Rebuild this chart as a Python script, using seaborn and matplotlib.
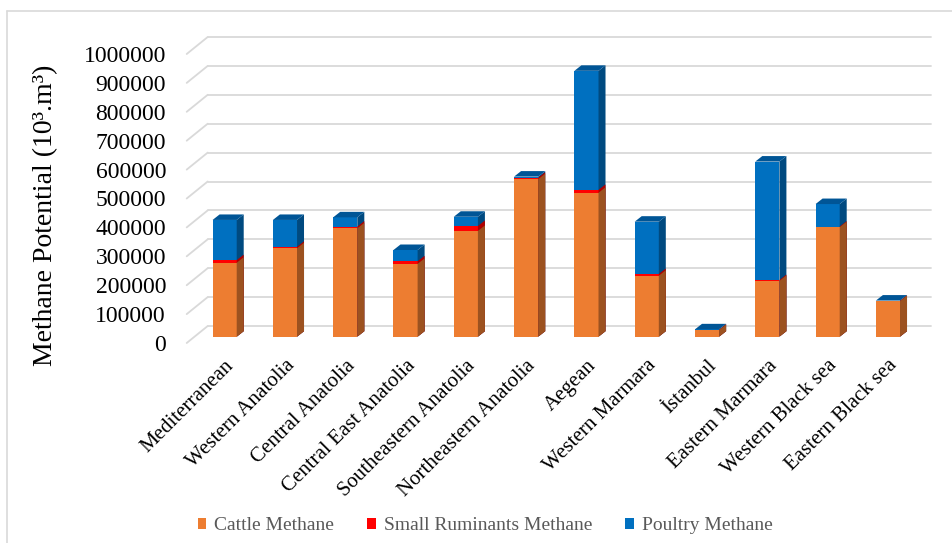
import numpy as np
import pandas as pd
import matplotlib
matplotlib.use("Agg")
import matplotlib.pyplot as plt
import matplotlib.transforms as mtransforms
from matplotlib.patches import Polygon, Patch
from matplotlib.lines import Line2D
import seaborn as sns

# Methane potential by region (10^3 m^3)
regions = ["Mediterranean", "Western Anatolia", "Central Anatolia", "Central East Anatolia",
           "Southeastern Anatolia", "Northeastern Anatolia", "Aegean", "Western Marmara",
           "İstanbul", "Eastern Marmara", "Western Black sea", "Eastern Black sea"]
cattle = [256000, 306000, 375000, 252000, 366000, 545000, 498000, 211000, 23000, 193000, 379000, 123000]
small_ruminants = [9000, 5000, 6000, 9000, 17000, 5000, 10000, 6000, 1000, 3000, 2000, 1000]
poultry = [139000, 93000, 32000, 39000, 32000, 4000, 412000, 181000, 1500, 410000, 78000, 1000]

y_ticks = list(range(0, 1000001, 100000))
series_names = ["Cattle Methane", "Small Ruminants Methane", "Poultry Methane"]

sns.set_theme(style="white")
serif = ["Liberation Serif", "DejaVu Serif"]
plt.rcParams["font.family"] = serif

df = pd.DataFrame({"region": regions, "cattle": cattle,
                   "small": small_ruminants, "poultry": poultry})
df["cattle_small"] = df["cattle"] + df["small"]
df["total"] = df["cattle_small"] + df["poultry"]

W, H = 953, 543
fig = plt.figure(figsize=(W / 100, H / 100), dpi=100)
ax = fig.add_axes([194.5 / W, (H - 336.7) / H, 723.6 / W, 289 / H])

# face / side / top colours for each stacked layer (drawn back to front)
layers = [
    ("total", "#0070C0", "#004A80", "#005596"),
    ("cattle_small", "#FF0000", "#B00000", "#D00000"),
    ("cattle", "#ED7D31", "#9C5220", "#C8692A"),
]

bar_w = 0.4
ax.set_xlim(-0.5, 11.5)
ax.set_ylim(0, 1000000)

p0 = ax.transData.transform((0, 0))
p1 = ax.transData.transform((1, 1))
ppx = p1[0] - p0[0]            # pixels per category unit
ppy = p1[1] - p0[1]            # pixels per value unit

depth_dx, depth_dy = 7 / ppx, 5.5 / ppy          # bar depth
back_dx, back_dy = 13.2 / ppx, 10.7 / ppy        # back wall offset
front_dx, front_dy = -7.8 / ppx, -6.3 / ppy      # front edge offset

z = 3
for col, face, side, top in layers:
    n_before = len(ax.patches)
    sns.barplot(data=df, x="region", y=col, color=face, saturation=1,
                width=bar_w, ax=ax, linewidth=0, edgecolor="none", errorbar=None)
    for rect in ax.patches[n_before:]:
        x, w, h = rect.get_x(), rect.get_width(), rect.get_height()
        rect.set_zorder(z)
        side_poly = Polygon([(x + w, 0), (x + w + depth_dx, depth_dy),
                             (x + w + depth_dx, h + depth_dy), (x + w, h)],
                            closed=True, facecolor=side, edgecolor="none", zorder=z + 0.5)
        ax.add_patch(side_poly)
        if col == "total":
            top_poly = Polygon([(x, h), (x + depth_dx, h + depth_dy),
                                (x + w + depth_dx, h + depth_dy), (x + w, h)],
                               closed=True, facecolor=top, edgecolor="none", zorder=z + 0.5)
            ax.add_patch(top_poly)
    z += 1

ax.set_xlim(-0.5, 11.5)
ax.set_ylim(0, 1000000)

# back wall gridlines and side-wall diagonals
grid_c = "#D9D9D9"
for v in y_ticks:
    ax.plot([-0.5 + back_dx, 11.5 + back_dx], [v + back_dy, v + back_dy],
            color=grid_c, lw=1.3, zorder=0.5, clip_on=False)
    ax.plot([-0.5 + front_dx, -0.5 + back_dx], [v + front_dy, v + back_dy],
            color=grid_c, lw=1.3, zorder=0.5, clip_on=False)

for s in ax.spines.values():
    s.set_visible(False)

ax.set_yticks(y_ticks)
ax.set_yticklabels([str(t) for t in y_ticks], fontsize=17, color="black")
ax.tick_params(axis="y", length=0, pad=20.5)
for lab in ax.get_yticklabels():
    lab.set_transform(lab.get_transform() + mtransforms.Affine2D().translate(0, -6.3))

ax.set_xticks(range(len(regions)))
ax.set_xticklabels(regions, rotation=45, ha="right", rotation_mode="anchor",
                   fontsize=15, color="black")
ax.tick_params(axis="x", length=0, pad=14)
ax.set_xlabel("")
ax.set_ylabel("Methane Potential (10³.m³)", fontsize=20, color="black")
ax.yaxis.set_label_coords((58 - 194.5) / 723.6, 0.42)

handles = [Patch(facecolor=c, edgecolor="none") for c in ["#ED7D31", "#FF0000", "#0070C0"]]
fig.legend(handles, series_names, loc="center", bbox_to_anchor=(0.509, 1 - 526 / H),
           ncol=3, frameon=False, prop={"family": serif, "size": 14},
           handlelength=0.45, handleheight=0.45,
           handletextpad=0.4, columnspacing=1.7, labelcolor="#595959")

# chart area outline
fig.add_artist(Line2D([6.5 / W, 6.5 / W], [0, 1 - 11 / H], color="#D9D9D9", lw=1.2))
fig.add_artist(Line2D([6.5 / W, 1], [1 - 11 / H, 1 - 11 / H], color="#D9D9D9", lw=1.2))

fig.savefig("out.png", dpi=100)
